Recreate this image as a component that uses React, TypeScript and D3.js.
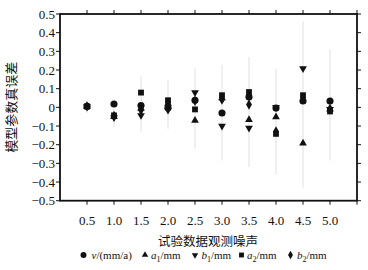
import React from "react";
import * as d3 from "d3";

const noise = [0.5, 1.0, 1.5, 2.0, 2.5, 3.0, 3.5, 4.0, 4.5, 5.0];
const vErr = [0.005, 0.018, 0.01, -0.002, 0.038, -0.03, 0.055, -0.004, 0.034, 0.034];
const a1Err = [0.005, -0.05, -0.005, 0.02, -0.07, 0.05, -0.066, -0.052, -0.192, -0.01];
const b1Err = [0.005, -0.055, -0.043, -0.015, 0.079, -0.1, -0.111, 0.0, 0.208, -0.01];
const a2Err = [0.005, -0.043, 0.079, 0.038, -0.011, 0.065, 0.082, -0.142, 0.065, -0.022];
const b2Err = [0.005, -0.045, -0.016, 0.023, 0.035, 0.041, 0.015, -0.129, 0.05, -0.007];
const barLow = [-0.03, -0.105, -0.133, -0.115, -0.22, -0.285, -0.32, -0.357, -0.43, -0.285];
const barHigh = [0.03, 0.045, 0.167, 0.15, 0.21, 0.226, 0.27, 0.208, 0.46, 0.31];
const yTicks = [0.5, 0.4, 0.3, 0.2, 0.1, 0, -0.1, -0.2, -0.3, -0.4, -0.5];
const xTicks = [0.5, 1.0, 1.5, 2.0, 2.5, 3.0, 3.5, 4.0, 4.5, 5.0, 5.5];
const xTitle = "试验数据观测噪声";
const yTitle = "模型参数真误差";

type Series = { key: string; values: number[]; shape: string; label: React.ReactNode };

const series: Series[] = [
  { key: "v", values: vErr, shape: "circle", label: <><tspan fontStyle="italic">v</tspan>/(mm/a)</> },
  { key: "a1", values: a1Err, shape: "triUp", label: <><tspan fontStyle="italic">a</tspan><tspan fontSize="8" dy="3">1</tspan><tspan dy="-3">/mm</tspan></> },
  { key: "b1", values: b1Err, shape: "triDown", label: <><tspan fontStyle="italic">b</tspan><tspan fontSize="8" dy="3">1</tspan><tspan dy="-3">/mm</tspan></> },
  { key: "a2", values: a2Err, shape: "square", label: <><tspan fontStyle="italic">a</tspan><tspan fontSize="8" dy="3">2</tspan><tspan dy="-3">/mm</tspan></> },
  { key: "b2", values: b2Err, shape: "diamond", label: <><tspan fontStyle="italic">b</tspan><tspan fontSize="8" dy="3">2</tspan><tspan dy="-3">/mm</tspan></> },
];

function symPath(shape: string, scale = 1): { d: string; rot: number } {
  const s = d3.symbol();
  if (shape === "circle") return { d: s.type(d3.symbolCircle).size(40 * scale)() as string, rot: 0 };
  if (shape === "triUp") return { d: s.type(d3.symbolTriangle).size(26 * scale)() as string, rot: 0 };
  if (shape === "triDown") return { d: s.type(d3.symbolTriangle).size(26 * scale)() as string, rot: 180 };
  if (shape === "square") return { d: s.type(d3.symbolSquare).size(34 * scale)() as string, rot: 0 };
  return { d: s.type(d3.symbolDiamond).size(30 * scale)() as string, rot: 0 };
}

export default function App() {
  const W = 368, H = 270;
  const left = 60, right = 357, top = 14, bottom = 200.7;
  const x = d3.scaleLinear().domain([0, 5.5]).range([left, right]);
  const y = d3.scaleLinear().domain([-0.5, 0.5]).range([bottom, top]);
  const serif = "'Liberation Serif', 'DejaVu Serif', serif";
  const cjk = "'Noto Sans CJK SC', sans-serif";
  const fmt = (v: number) => (v === 0 ? "0" : v < 0 ? "\u2212" + Math.abs(v).toFixed(1) : v.toFixed(1));
  const legendX = [83.5, 145, 195, 241.5, 290.5];
  const legendTextX = [91.5, 151, 201.5, 247, 297];
  const legendY = 255;

  return (
    <svg width={W} height={H} style={{ position: "absolute", left: 0, top: 0, background: "#fff" }}>
      <rect x={0} y={0} width={W} height={H} fill="#fff" />
      {/* error bars */}
      {noise.map((n, i) => (
        <line key={"eb" + i} x1={x(n)} x2={x(n)} y1={y(barLow[i])} y2={y(barHigh[i])} stroke="#e0e0e0" strokeWidth={1} />
      ))}
      {/* markers */}
      {series.map((s) =>
        s.values.map((v, i) => {
          const p = symPath(s.shape);
          return (
            <path key={s.key + i} d={p.d} transform={`translate(${x(noise[i])},${y(v)}) rotate(${p.rot})`} fill="#111" />
          );
        })
      )}
      {/* frame */}
      <rect x={left} y={top} width={right - left} height={bottom - top} fill="none" stroke="#111" strokeWidth={1.8} />
      {/* y ticks */}
      {yTicks.map((t) => (
        <g key={"yt" + t}>
          <line x1={left - 4} x2={left} y1={y(t)} y2={y(t)} stroke="#111" strokeWidth={1} />
          <line x1={right} x2={right + 4} y1={y(t)} y2={y(t)} stroke="#111" strokeWidth={1} />
          <text x={left - 5} y={y(t)} dy="0.35em" textAnchor="end" fontFamily={serif} fontSize={13} fill="#111">
            {fmt(t)}
          </text>
        </g>
      ))}
      {/* x ticks */}
      {xTicks.map((t) => (
        <g key={"xt" + t}>
          <line x1={x(t)} x2={x(t)} y1={bottom} y2={bottom + 4} stroke="#111" strokeWidth={1} />
          <line x1={x(t)} x2={x(t)} y1={top - 4} y2={top} stroke="#111" strokeWidth={1} />
          {t <= 5.0 && (
            <text x={x(t)} y={224.5} textAnchor="middle" fontFamily={serif} fontSize={13} fill="#111">
              {t.toFixed(1)}
            </text>
          )}
        </g>
      ))}
      {/* axis titles */}
      <text x={208} y={246} textAnchor="middle" fontFamily={cjk} fontSize={12.5} fill="#111">
        {xTitle}
      </text>
      <text transform={`translate(15.5,${(top + bottom) / 2}) rotate(-90)`} textAnchor="middle" fontFamily={cjk} fontSize={13} fill="#111">
        {yTitle}
      </text>
      {/* legend */}
      {series.map((s, i) => {
        const p = symPath(s.shape, 0.7);
        return (
          <g key={"lg" + s.key}>
            <path d={p.d} transform={`translate(${legendX[i]},${legendY}) rotate(${p.rot})`} fill="#111" />
            <text x={legendTextX[i]} y={legendY + 3.5} fontFamily={serif} fontSize={11} fill="#111">
              {s.label}
            </text>
          </g>
        );
      })}
    </svg>
  );
}
